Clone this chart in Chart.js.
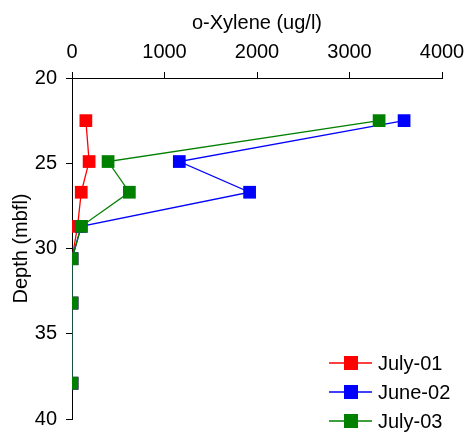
<!DOCTYPE html>
<html>
<head>
<meta charset="utf-8">
<script src="https://cdn.jsdelivr.net/npm/chart.js@4"></script>
<style>
  html, body { margin: 0; padding: 0; background: #fff; }
  #c { display: block; }
</style>
</head>
<body>
<canvas id="c" width="470" height="435"></canvas>
<script>
// Sampling depths (metres below floor level)
const depths = [22.5, 24.9, 26.7, 28.7, 30.6, 33.2, 37.9];
// o-Xylene concentrations (ug/l) per sampling round
const july01 = [150, 185, 100, 60, 0, 0, 0];
const june02 = [3590, 1160, 1920, 100, 0, 0, 0];
const july03 = [3320, 390, 620, 100, 0, 0, 0];
const seriesNames = ['July-01', 'June-02', 'July-03'];
const seriesColors = ['#ff0000', '#0000ff', '#008000'];
const xTicks = [0, 1000, 2000, 3000, 4000];
const yTicks = [20, 25, 30, 35, 40];

const FONT = "'Liberation Sans', Arial, Helvetica, sans-serif";
const FSIZE = 20;

const datasets = [july01, june02, july03].map((vals, i) => ({
  label: seriesNames[i],
  data: vals.map((v, k) => ({ x: v, y: depths[k] })),
  showLine: true,
  borderColor: seriesColors[i],
  backgroundColor: seriesColors[i],
  borderWidth: 1.3,
  pointStyle: 'rect',
  pointRadius: 9,
  pointHoverRadius: 9,
  pointBorderWidth: 0,
  order: 2 - i
}));

// Legend drawn inside the plot, lower right, line + square marker per series
const insideLegend = {
  id: 'insideLegend',
  afterDraw(chart) {
    const { ctx, chartArea } = chart;
    ctx.save();
    ctx.font = FSIZE + 'px ' + FONT;
    ctx.textBaseline = 'middle';
    ctx.textAlign = 'left';
    chart.data.datasets.forEach((ds, i) => {
      const y = chartArea.bottom - 56 + i * 29;
      const x0 = chartArea.right - 113;
      ctx.strokeStyle = ds.borderColor;
      ctx.lineWidth = 1.3;
      ctx.beginPath();
      ctx.moveTo(x0, y);
      ctx.lineTo(x0 + 43, y);
      ctx.stroke();
      ctx.fillStyle = ds.backgroundColor;
      ctx.fillRect(x0 + 15, y - 7, 14, 14);
      ctx.fillStyle = '#000';
      ctx.fillText(ds.label, x0 + 49, y + 1);
    });
    ctx.restore();
  }
};

const tickGrid = {
  display: true,
  drawOnChartArea: false,
  drawTicks: true,
  tickLength: 6,
  color: '#000',
  lineWidth: 1
};

new Chart(document.getElementById('c'), {
  type: 'scatter',
  data: { datasets },
  plugins: [insideLegend],
  options: {
    responsive: false,
    animation: false,
    layout: { padding: { left: 0, top: 0, right: 28, bottom: 16 } },
    plugins: { legend: { display: false }, tooltip: { enabled: false } },
    scales: {
      x: {
        type: 'linear',
        position: 'top',
        min: 0,
        max: 4000,
        afterBuildTicks: s => { s.ticks = xTicks.map(v => ({ value: v })); },
        afterFit: s => { s.height = 78; s.paddingLeft = 0; s.paddingRight = 0; },
        grid: tickGrid,
        border: { display: true, color: '#000', width: 1 },
        ticks: { color: '#000', font: { family: FONT, size: FSIZE }, padding: 8, maxRotation: 0, callback: v => String(v) },
        title: { display: true, text: 'o-Xylene (ug/l)', color: '#000', font: { family: FONT, size: FSIZE }, padding: { top: 11, bottom: 0 } }
      },
      y: {
        type: 'linear',
        reverse: true,
        min: 20,
        max: 40,
        afterBuildTicks: s => { s.ticks = yTicks.map(v => ({ value: v })); },
        afterFit: s => { s.width = 72; s.paddingTop = 0; s.paddingBottom = 0; },
        grid: tickGrid,
        border: { display: true, color: '#000', width: 1 },
        ticks: { color: '#000', font: { family: FONT, size: FSIZE }, padding: 9, callback: v => String(v) },
        title: { display: true, text: 'Depth (mbfl)', color: '#000', font: { family: FONT, size: FSIZE }, padding: { top: 9, bottom: 0 } }
      }
    }
  }
});
</script>
</body>
</html>
